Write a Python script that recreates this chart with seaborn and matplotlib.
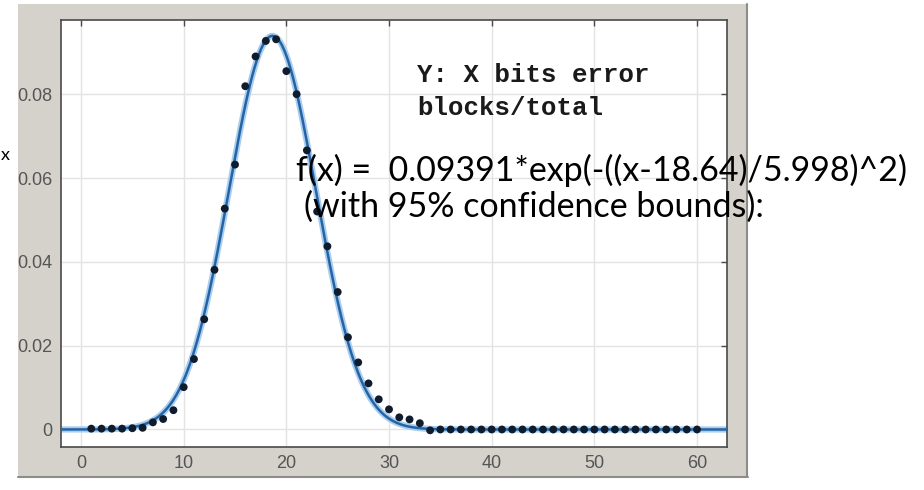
import matplotlib
matplotlib.use("Agg")
import matplotlib.pyplot as plt
from matplotlib.patches import Rectangle
import numpy as np
import pandas as pd
import seaborn as sns

# ---------------- data ----------------
x_points = [1, 2, 3, 4, 5, 6, 7, 8, 9, 10,
            11, 12, 13, 14, 15, 16, 17, 18, 19, 20,
            21, 22, 23, 24, 25, 26, 27, 28, 29, 30,
            31, 32, 33, 34, 35, 36, 37, 38, 39, 40,
            41, 42, 43, 44, 45, 46, 47, 48, 49, 50,
            51, 52, 53, 54, 55, 56, 57, 58, 59, 60]
y_points = [0.0002, 0.0002, 0.0002, 0.0002, 0.0003, 0.0004, 0.0017, 0.0025, 0.0046, 0.0101,
            0.0168, 0.0263, 0.0381, 0.0527, 0.0632, 0.0819, 0.0890, 0.0927, 0.0931, 0.0855,
            0.0800, 0.0666, 0.0520, 0.0437, 0.0328, 0.0220, 0.0160, 0.0110, 0.0072, 0.0048,
            0.0029, 0.0024, 0.0015, -0.0002, 0.0000, 0.0000, 0.0000, 0.0000, 0.0000, 0.0000,
            0.0000, 0.0000, 0.0000, 0.0000, 0.0000, 0.0000, 0.0000, 0.0000, 0.0000, 0.0000,
            0.0000, 0.0000, 0.0000, 0.0000, 0.0000, 0.0000, 0.0000, 0.0000, 0.0000, 0.0000]

# fitted gaussian parameters shown on the chart
fit_a = 0.09391
fit_b = 18.64
fit_c = 5.998

x_ticks = [0, 10, 20, 30, 40, 50, 60]
x_tick_labels = ["0", "10", "20", "30", "40", "50", "60"]
y_ticks = [0, 0.02, 0.04, 0.06, 0.08]
y_tick_labels = ["0", "0.02", "0.04", "0.06", "0.08"]

fit_line1 = "f(x) =  0.09391*exp(-((x-18.64)/5.998)^2)"
fit_line2 = "(with 95% confidence bounds):"
note_line1 = "Y: X bits error"
note_line2 = "blocks/total"

# ---------------- figure ----------------
sns.set_style("white")
plt.rcParams["font.family"] = ["Liberation Sans", "DejaVu Sans"]

W, H = 924, 490
fig = plt.figure(figsize=(W / 100, H / 100), dpi=100)
fig.patch.set_facecolor("white")

def fx(px):
    return px / W

def fy(py):
    return 1 - py / H

# gray MATLAB figure panel
panel = Rectangle((fx(18), fy(477)), fx(748) - fx(18), fy(4) - fy(477),
                  transform=fig.transFigure, facecolor="#d5d2cb",
                  edgecolor="none", zorder=0)
fig.patches.append(panel)
fig.add_artist(plt.Line2D([fx(747), fx(747)], [fy(477), fy(4)], transform=fig.transFigure,
                          color="#8e8c88", lw=1.5, zorder=1))
fig.add_artist(plt.Line2D([fx(18), fx(748)], [fy(477), fy(477)], transform=fig.transFigure,
                          color="#8e8c88", lw=1.5, zorder=1))

ax = fig.add_axes([fx(61), fy(446.5), fx(727) - fx(61), fy(20) - fy(446.5)])
ax.set_facecolor("white")
ax.set_zorder(2)

curve_x = np.linspace(-2, 63, 600)
curve_df = pd.DataFrame({"x": curve_x,
                         "y": fit_a * np.exp(-((curve_x - fit_b) / fit_c) ** 2)})
pts_df = pd.DataFrame({"x": x_points, "y": y_points})

sns.lineplot(data=curve_df, x="x", y="y", ax=ax, color="#a9cdee", lw=4.5, zorder=2)
sns.lineplot(data=curve_df, x="x", y="y", ax=ax, color="#2464a4", lw=1.8, zorder=3)
sns.scatterplot(data=pts_df, x="x", y="y", ax=ax, color="#0f1c2e", s=32,
                edgecolor="none", zorder=4)

ax.set_xlim(-1.95, 62.92)
ax.set_ylim(-0.00406, 0.0977)
ax.set_xticks(x_ticks)
ax.set_xticklabels(x_tick_labels)
ax.set_yticks(y_ticks)
ax.set_yticklabels(y_tick_labels)
ax.set_xlabel("")
ax.set_ylabel("")
ax.grid(True, color="#e3e3e3", lw=1)
ax.set_axisbelow(True)
for s in ax.spines.values():
    s.set_color("#4a4a4a")
    s.set_linewidth(1.2)
ax.tick_params(direction="in", length=4, width=1, color="#4a4a4a",
               top=True, right=True, labelsize=13, labelcolor="#555555",
               pad=6)

# annotations
mono = ["Liberation Mono", "DejaVu Sans Mono"]
fig.text(fx(417), fy(75), note_line1, fontsize=18.5, fontweight="bold",
         family=mono, color="#1a1a1a", va="center", ha="left", zorder=5)
fig.text(fx(417), fy(108), note_line2, fontsize=18.5, fontweight="bold",
         family=mono, color="#1a1a1a", va="center", ha="left", zorder=5)

sans = ["Lato", "DejaVu Sans"]
fig.text(fx(296), fy(170), fit_line1, fontsize=24.5, family=sans,
         color="black", va="center", ha="left", zorder=5)
fig.text(fx(304), fy(207), fit_line2, fontsize=24.5, family=sans,
         color="black", va="center", ha="left", zorder=5)
fig.text(fx(1), fy(155), "x", fontsize=13, family=sans,
         color="black", va="center", ha="left", zorder=5)

fig.savefig("out.png", dpi=100, facecolor="white")
